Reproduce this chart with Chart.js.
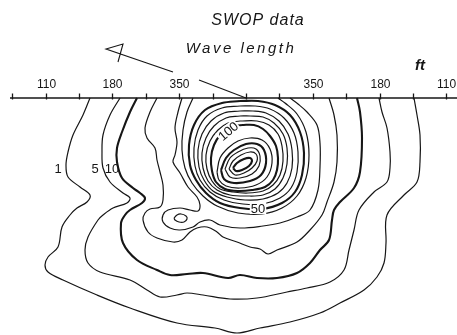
<!DOCTYPE html>
<html>
<head>
<meta charset="utf-8">
<script src="https://cdn.jsdelivr.net/npm/chart.js@4.4.0/dist/chart.umd.min.js"></script>
<style>
  html, body { margin: 0; padding: 0; background: #fff; }
  #wrap { width: 457px; height: 335px; }
</style>
</head>
<body>
<div id="wrap"><canvas id="chart" width="457" height="335"></canvas></div>
<script>
// digitized frame of the figure: x = offset along the wave length axis from its centre,
// y = depth below the axis (both in the same units, one tick = tickStep)
const tickStep = 33.4;
const tickSteps = [-7, -6, -5, -4, -3, -2, -1, 0, 1, 2, 3, 4, 5, 6];
const tickLabels = ["", "110", "", "180", "", "350", "", "", "", "350", "", "180", "", "110"];

const contourLevels = [1, 5, 10, 20, 30, 40, 50, 60, 70, 80, 90, 100, 150, 200, 300, 400, 500];

const c1 = [[-156,0],[-163,17],[-173,37],[-178,54],[-180,67],[-178,79],[-166,89],[-156,97],[-159,104],[-169,110],[-176,117],[-184,129],[-188,149],[-198,159],[-201,167],[-198,174],[-183,182],[-149,197],[-116,210],[-69,225],[-31,230],[-9,235],[14,230],[44,224],[74,215],[94,205],[118,192],[131,179],[138,165],[140,145],[141,117],[158,97],[171,84],[174,64],[174,37],[171,17],[168,0]];
const c5 = [[-126,0],[-136,17],[-143,37],[-144,54],[-143,70],[-136,84],[-123,95],[-116,100],[-119,105],[-133,110],[-143,117],[-148,122],[-158,139],[-161,152],[-158,165],[-146,174],[-116,182],[-99,192],[-86,199],[-69,197],[-59,195],[-43,197],[-16,201],[11,200],[41,194],[61,190],[84,184],[98,172],[103,152],[108,132],[113,112],[128,94],[141,84],[144,70],[144,54],[141,30],[136,14],[133,0]];
const c10 = [[-109,0],[-116,14],[-124,34],[-129,50],[-129,64],[-124,80],[-113,90],[-106,95],[-101,100],[-104,105],[-116,112],[-121,117],[-125,125],[-123,145],[-109,162],[-89,172],[-76,177],[-59,176],[-43,175],[-18,180],[-6,177],[11,180],[31,180],[51,175],[64,165],[74,152],[83,142],[86,122],[88,112],[94,104],[108,90],[114,74],[116,40],[114,14],[111,0]];
const c20 = [[-89,0],[-96,14],[-101,30],[-99,40],[-91,50],[-89,62],[-86,74],[-83,87],[-83,102],[-86,109],[-96,111],[-101,115],[-103,122],[-98,134],[-89,140],[-73,144],[-64,142],[-56,134],[-49,130],[-39,129],[-29,134],[-23,139],[-9,144],[4,149],[14,151],[22,156],[31,152],[51,144],[64,132],[76,117],[81,104],[88,84],[91,64],[91,37],[88,17],[83,0]];
const c30 = [[-64,0],[-68,14],[-71,30],[-69,44],[-71,57],[-73,64],[-66,75],[-58,89],[-49,99],[-46,107],[-48,113],[-56,112],[-66,110],[-78,112],[-83,117],[-83,124],[-76,130],[-66,132],[-53,129],[-46,124],[-36,122],[-26,127],[-6,130],[17,128],[34,125],[51,119],[64,112],[72,92],[74,69],[74,45],[71,27],[61,14],[52,6],[44,0]];
const c40 = [[-53,0],[-59,14],[-63,32],[-64,52],[-61,70],[-54,85],[-43,98],[-29,108],[-8,115],[16,116],[36,110],[51,98],[60,80],[63,57],[60,34],[51,16],[39,5],[32,0]];
const c50 = [[-6,3],[-24,5],[-41,12],[-52,27],[-57,47],[-56,67],[-50,82],[-40,95],[-26,105],[-6,110],[16,111],[36,105],[49,94],[56,77],[58,55],[54,34],[44,17],[29,7],[12,3],[-6,3]];
const c60 = [[-6,8],[-24,10],[-39,18],[-48,32],[-52,50],[-51,68],[-46,82],[-36,94],[-22,102],[-3,106],[17,106],[34,100],[45,90],[51,74],[52,54],[48,35],[38,20],[24,11],[9,8],[-6,8]];
const c70 = [[-6,13],[-22,15],[-35,23],[-44,36],[-48,52],[-47,69],[-42,82],[-33,93],[-19,99],[-1,102],[17,101],[32,95],[41,85],[46,70],[46,52],[42,36],[33,23],[20,15],[7,13],[-6,13]];
const c80 = [[-6,18],[-20,20],[-32,28],[-40,40],[-44,55],[-43,70],[-38,83],[-29,92],[-16,97],[1,98],[17,97],[29,91],[37,80],[41,66],[41,50],[37,36],[28,25],[17,19],[4,18],[-6,18]];
const c90 = [[-6,23],[-18,25],[-28,32],[-36,43],[-40,57],[-39,71],[-34,83],[-26,91],[-13,94],[2,95],[17,93],[27,87],[34,77],[37,63],[36,48],[32,36],[23,27],[11,23],[-6,23]];
const c100 = [[-4,27],[-16,29],[-25,36],[-32,47],[-35,60],[-34,73],[-30,84],[-21,91],[-8,93],[6,92],[19,89],[27,82],[31,72],[32,60],[30,48],[24,38],[17,31],[8,27],[-4,27]];
const c150 = [[-29,74],[-26,60],[-18,50],[-8,43],[4,40],[16,42],[24,51],[26,65],[21,79],[10,87],[-6,90],[-20,88],[-27,82],[-29,74]];
const c200 = [[-25,72],[-20,60],[-12,52],[0,46],[11,46],[18,52],[20,65],[15,77],[4,83],[-12,85],[-22,81],[-25,72]];
const c300 = [[-21,71],[-16,60],[-8,54],[2,50],[10,51],[14,58],[13,68],[6,76],[-6,80],[-16,79],[-21,71]];
const c400 = [[-17,71],[-13,63],[-5,57],[4,54],[10,56],[11,63],[6,70],[-2,75],[-11,77],[-17,71]];
const c500 = [[-13,70],[-9,65],[-2,61],[4,60],[6,63],[3,68],[-4,72],[-10,73],[-13,70]];
const islet30 = [[-72,120],[-69,117],[-65,116],[-60,118],[-59,121],[-62,124],[-67,124],[-71,122],[-72,120]];

const contourLines = [c1, c5, c10, c20, c30, c40, c50, c60, c70, c80, c90, c100, c150, c200, c300, c400, c500];

const axisLine = [[-236,0],[211,0]];
const arrowHead = [[-128,-36],[-123,-54],[-140,-49],[-73,-26]];
const arrowTail = [[-47,-18],[0,0]];

const labelTexts = ["1", "5", "10", "100", "50"];
const labelAt = [[-188,70], [-151,70], [-134,70], [-18,33], [12,110]];

const ink = "#161616";
const boldLevels = [10, 50, 100, 200, 500];

function toPoints(arr) {
    return arr.map(p => ({ x: p[0], y: p[1] }));
}

function lineSet(arr, width, tension) {
    return {
        data: toPoints(arr),
        showLine: true,
        borderColor: ink,
        borderWidth: width,
        pointRadius: 0,
        tension: tension,
        fill: false
    };
}

const datasets = contourLines.map((line, i) =>
    lineSet(line, boldLevels.includes(contourLevels[i]) ? 2.1 : 1.2, 0.35));
datasets.push(lineSet(islet30, 1.2, 0.4));
datasets.push(lineSet(axisLine, 1.5, 0));
datasets.push(lineSet(arrowHead, 1.1, 0));
datasets.push(lineSet(arrowTail, 1.1, 0));

const figureDecor = {
    id: "figureDecor",
    afterDatasetsDraw(chart) {
        const ctx = chart.ctx;
        const xs = chart.scales.x;
        const ys = chart.scales.y;
        const y0 = ys.getPixelForValue(0);

        ctx.save();
        ctx.strokeStyle = ink;
        ctx.fillStyle = ink;
        ctx.lineWidth = 1.3;
        ctx.textAlign = "center";
        ctx.textBaseline = "alphabetic";
        ctx.font = "12px 'Liberation Sans', Arial, sans-serif";
        tickSteps.forEach((k, i) => {
            const px = Math.round(xs.getPixelForValue(k * tickStep)) + 0.5;
            ctx.beginPath();
            ctx.moveTo(px, y0 - 4.5);
            ctx.lineTo(px, y0 + 1.5);
            ctx.stroke();
            if (tickLabels[i]) ctx.fillText(tickLabels[i], px, y0 - 10);
        });

        // contour labels, set into the lines on a white patch
        ctx.font = "13px 'Liberation Sans', Arial, sans-serif";
        ctx.textBaseline = "middle";
        labelTexts.forEach((t, i) => {
            const px = xs.getPixelForValue(labelAt[i][0]);
            const py = ys.getPixelForValue(labelAt[i][1]);
            ctx.save();
            ctx.translate(px, py);
            if (t === "100") ctx.rotate(-40 * Math.PI / 180);
            const w = ctx.measureText(t).width;
            if (t === "100" || t === "50") {
                ctx.fillStyle = "#fff";
                ctx.fillRect(-w / 2 - 1, -6, w + 2, 12);
                ctx.fillStyle = ink;
            }
            ctx.fillText(t, 0, 1);
            ctx.restore();
        });

        // headings
        ctx.textBaseline = "alphabetic";
        ctx.font = "italic 16px 'Liberation Sans', Arial, sans-serif";
        ctx.letterSpacing = "1px";
        ctx.fillText("SWOP data", 258, 25);
        ctx.font = "italic 15px 'Liberation Sans', Arial, sans-serif";
        ctx.letterSpacing = "2.5px";
        ctx.fillText("Wave length", 241, 53);
        ctx.letterSpacing = "0px";
        ctx.font = "italic bold 15px 'Liberation Sans', Arial, sans-serif";
        ctx.fillText("ft", 420, 70);
        ctx.restore();
    }
};

new Chart(document.getElementById("chart"), {
    type: "scatter",
    data: { datasets: datasets },
    options: {
        responsive: false,
        animation: false,
        devicePixelRatio: 1,
        layout: { padding: 0 },
        scales: {
            x: { display: false, min: -246, max: 211 },
            y: { display: false, reverse: true, min: -98, max: 237 }
        },
        plugins: {
            legend: { display: false },
            tooltip: { enabled: false },
            title: { display: false }
        }
    },
    plugins: [figureDecor]
});
</script>
</body>
</html>
